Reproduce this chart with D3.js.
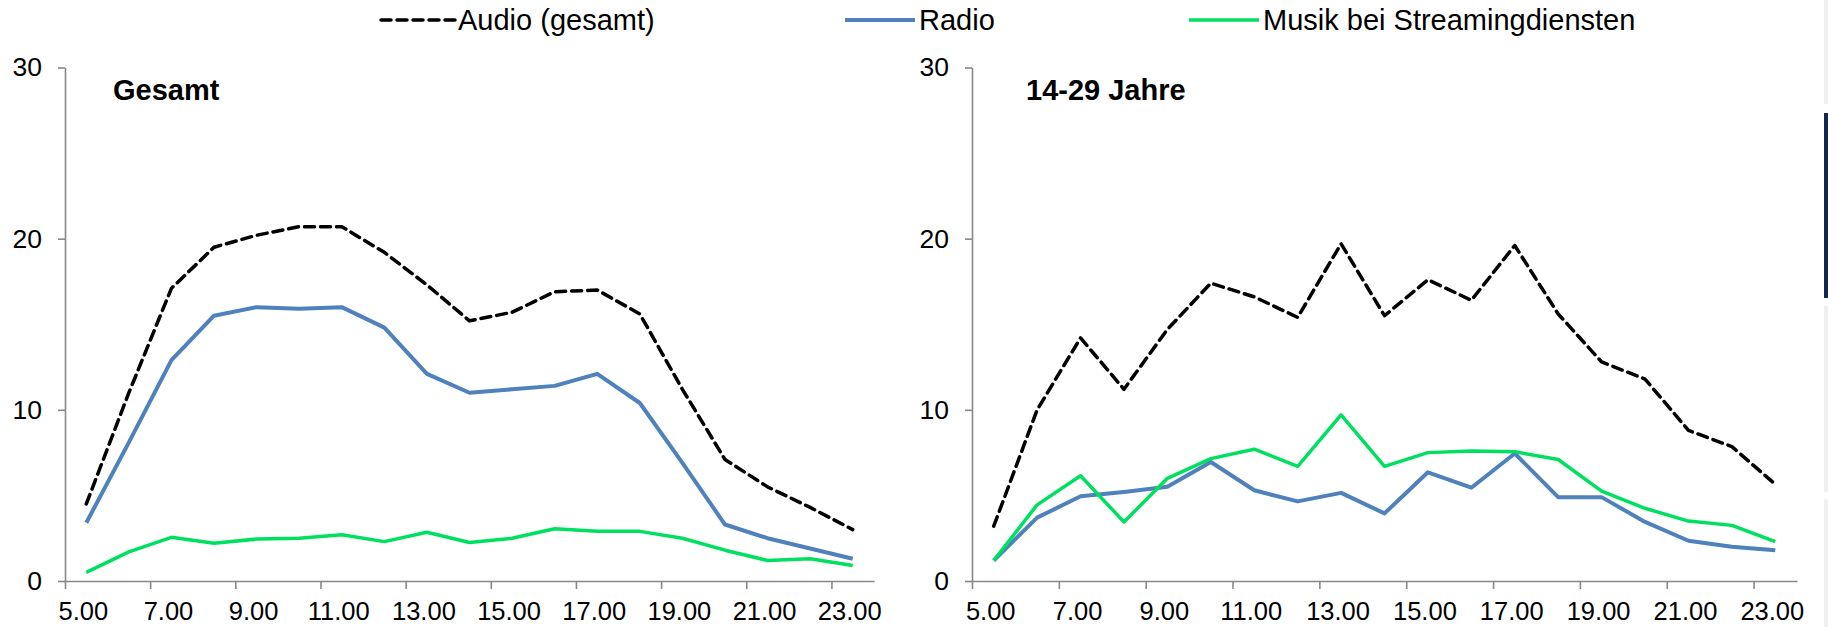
<!DOCTYPE html>
<html>
<head>
<meta charset="utf-8">
<script src="https://cdn.jsdelivr.net/npm/d3@7"></script>
<style>
  html, body { margin: 0; padding: 0; background: #ffffff; }
  svg { display: block; font-family: "Liberation Sans", Arial, sans-serif; }
</style>
</head>
<body>
<svg id="chart" width="1828" height="627"></svg>
<script>
// ---- data ----
const hours = ["5.00","6.00","7.00","8.00","9.00","10.00","11.00","12.00","13.00","14.00",
               "15.00","16.00","17.00","18.00","19.00","20.00","21.00","22.00","23.00"];
const tickLabels = ["5.00","7.00","9.00","11.00","13.00","15.00","17.00","19.00","21.00","23.00"];
const yTicks = [0, 10, 20, 30];
const seriesNames = ["Audio (gesamt)", "Radio", "Musik bei Streamingdiensten"];
const panelTitles = ["Gesamt", "14-29 Jahre"];

const audioGesamt  = [4.5, 11.0, 17.1, 19.5, 20.2, 20.7, 20.7, 19.2, 17.3, 15.2, 15.7, 16.9, 17.0, 15.6, 11.2, 7.1, 5.5, 4.3, 3.0];
const radioGesamt  = [3.4, 8.1, 12.9, 15.5, 16.0, 15.9, 16.0, 14.8, 12.1, 11.0, 11.2, 11.4, 12.1, 10.4, 6.9, 3.3, 2.5, 1.9, 1.3];
const streamGesamt = [0.5, 1.7, 2.55, 2.2, 2.45, 2.5, 2.7, 2.3, 2.85, 2.25, 2.5, 3.05, 2.9, 2.9, 2.5, 1.8, 1.2, 1.3, 0.9];

const audioJung  = [3.2, 10.0, 14.2, 11.2, 14.7, 17.4, 16.6, 15.4, 19.7, 15.5, 17.6, 16.4, 19.6, 15.6, 12.8, 11.8, 8.8, 7.85, 5.65];
const radioJung  = [1.2, 3.7, 4.95, 5.2, 5.5, 6.95, 5.3, 4.65, 5.15, 3.95, 6.35, 5.45, 7.45, 4.9, 4.9, 3.45, 2.35, 2.0, 1.8];
const streamJung = [1.2, 4.45, 6.15, 3.45, 6.0, 7.15, 7.7, 6.7, 9.7, 6.7, 7.5, 7.6, 7.55, 7.1, 5.25, 4.25, 3.5, 3.25, 2.3];

// ---- styles ----
const colors = { audio: "#000000", radio: "#4F81BD", stream: "#00E060" };
const axisColor = "#888888";
const font = "\"Liberation Sans\", Arial, sans-serif";

const svg = d3.select("#chart");

const panels = [
  { title: panelTitles[0], x0: 65,  x1: 874,  series: [audioGesamt, radioGesamt, streamGesamt], titleX: 113 },
  { title: panelTitles[1], x0: 972, x1: 1797, series: [audioJung, radioJung, streamJung], titleX: 1026 }
];
const yTop = 67.5, yBottom = 581;

const seriesStyle = [
  { color: colors.audio, width: 3.5, dash: "10,6" },
  { color: colors.radio, width: 4, dash: null },
  { color: colors.stream, width: 3.5, dash: null }
];

panels.forEach(p => {
  const g = svg.append("g");
  const x = d3.scaleBand().domain(hours).range([p.x0, p.x1]).padding(0);
  const xLin = d3.scaleLinear().domain([0, hours.length]).range([p.x0, p.x1]);
  const y = d3.scaleLinear().domain([0, 30]).range([yBottom, yTop]);

  // y axis
  const yAxis = g.append("g").attr("transform", `translate(${p.x0},0)`)
    .call(d3.axisLeft(y).tickValues(yTicks).tickSize(7).tickSizeOuter(0).tickPadding(16).tickFormat(d3.format("d")));
  yAxis.select(".domain").attr("stroke", axisColor).attr("stroke-width", 1.6);
  yAxis.selectAll(".tick line").attr("stroke", axisColor).attr("stroke-width", 1.6);
  yAxis.selectAll(".tick text").attr("font-size", 26.5).attr("font-family", font).attr("fill", "#000");

  // x axis: ticks at category boundaries every 2 categories
  const xAxis = g.append("g").attr("transform", `translate(0,${yBottom})`)
    .call(d3.axisBottom(xLin).tickValues(d3.range(0, hours.length, 2)).tickSize(8).tickSizeOuter(0).tickFormat(""));
  xAxis.select(".domain").attr("stroke", axisColor).attr("stroke-width", 1.6);
  xAxis.selectAll(".tick line").attr("stroke", axisColor).attr("stroke-width", 1.6);

  // x labels at category centers
  g.append("g").selectAll("text").data(tickLabels).join("text")
    .attr("x", d => x(d) + x.bandwidth() / 2 - 3)
    .attr("y", 620)
    .attr("text-anchor", "middle")
    .attr("font-size", 25.5)
    .attr("font-family", font)
    .attr("fill", "#000")
    .text(d => d);

  // lines
  p.series.forEach((vals, si) => {
    const st = seriesStyle[si];
    const line = d3.line()
      .x((d, i) => x(hours[i]) + x.bandwidth() / 2)
      .y(d => y(d));
    g.append("path").datum(vals)
      .attr("d", line)
      .attr("fill", "none")
      .attr("stroke", st.color)
      .attr("stroke-width", st.width)
      .attr("stroke-linejoin", "round")
      .attr("stroke-linecap", st.dash ? "round" : "butt")
      .attr("stroke-dasharray", st.dash);
  });

  // title
  g.append("text")
    .attr("x", p.titleX).attr("y", 100)
    .attr("font-size", 29).attr("font-weight", "bold")
    .attr("font-family", font).attr("fill", "#000")
    .text(p.title);
});

// legend
const legendItems = [
  { name: seriesNames[0], x1: 381, x2: 455, tx: 458, st: seriesStyle[0] },
  { name: seriesNames[1], x1: 845, x2: 915, tx: 919, st: seriesStyle[1] },
  { name: seriesNames[2], x1: 1189, x2: 1259, tx: 1263, st: seriesStyle[2] }
];
const lg = svg.append("g");
legendItems.forEach(it => {
  lg.append("line").attr("x1", it.x1).attr("x2", it.x2).attr("y1", 20).attr("y2", 20)
    .attr("stroke", it.st.color).attr("stroke-width", it.st.width)
    .attr("stroke-dasharray", it.st.dash).attr("stroke-linecap", it.st.dash ? "round" : "butt");
  lg.append("text").attr("x", it.tx).attr("y", 20).attr("dy", "0.35em")
    .attr("font-size", 29).attr("font-family", font).attr("fill", "#000")
    .text(it.name);
});

// right-edge page strip
const strip = svg.append("g");
[[0, 104, "#f0f0f0"], [113, 298, "#15284a"], [306, 492, "#f0f0f0"], [499, 627, "#f0f0f0"]].forEach(s => {
  strip.append("rect").attr("x", 1824).attr("y", s[0]).attr("width", 4).attr("height", s[1] - s[0]).attr("fill", s[2]);
});
</script>
</body>
</html>
